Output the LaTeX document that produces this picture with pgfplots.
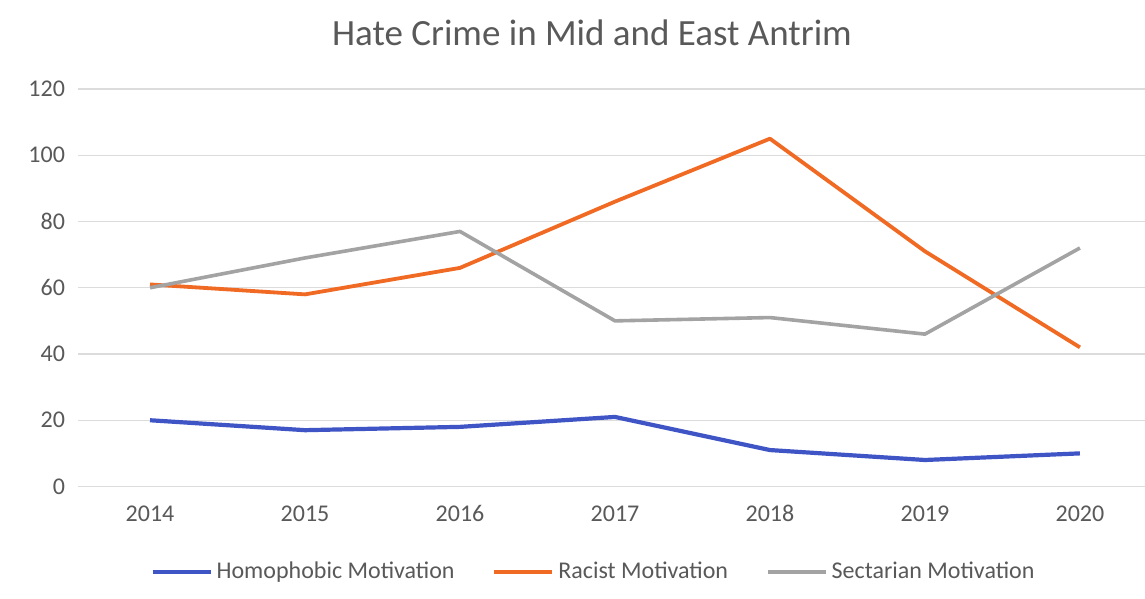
\documentclass[border=0pt]{standalone}
\usepackage{pgfplots}
\pgfplotsset{compat=1.18}
\usepackage{fontspec}
\setmainfont{Carlito}

\definecolor{homoblue}{HTML}{3F55C6}
\definecolor{racistorange}{HTML}{F06A24}
\definecolor{sectgray}{HTML}{A3A3A3}
\definecolor{gridgray}{HTML}{DCDCDC}
\definecolor{labelgray}{HTML}{595959}

\pgfplotstableread{
idx year homophobic racist sectarian
0 2014 20 61 60
1 2015 17 58 69
2 2016 18 66 77
3 2017 21 86 50
4 2018 11 105 51
5 2019 8 71 46
6 2020 10 42 72
}\hatecrime

\begin{document}
\begin{tikzpicture}
\useasboundingbox (0,0) rectangle (572.5pt,299.5pt);
\fill[white] (0,0) rectangle (572.5pt,299.5pt);
\node[text=labelgray, font=\fontsize{18.5}{22}\selectfont] at (296pt,283pt) {Hate Crime in Mid and East Antrim};
\begin{axis}[
  at={(39pt,56.25pt)}, anchor=south west,
  scale only axis,
  width=533.5pt, height=198.75pt,
  xmin=-0.465, xmax=6.42,
  ymin=0, ymax=120,
  xtick={0,...,6},
  xticklabels={2014,2015,2016,2017,2018,2019,2020},
  ytick={0,20,...,120},
  axis line style={draw=none},
  major tick length=0pt,
  ymajorgrids,
  grid style={gridgray, line width=0.6pt},
  tick label style={text=labelgray, font=\fontsize{12}{14}\selectfont},
  yticklabel style={xshift=-3pt},
  xticklabel style={anchor=north, text height=8pt, text depth=0pt, yshift=-6pt},
  /pgf/number format/assume math mode=true,
  clip=false,
  legend style={at={(0.484,-0.215)}, anchor=center, draw=none, fill=none,
    legend columns=3, font=\fontsize{12}{14}\selectfont, text=labelgray,
    /tikz/every even column/.append style={column sep=17pt}},
  legend cell align=left,
  legend image code/.code={\draw[#1] (0pt,0pt) -- (29pt,0pt);},
]
\addplot[homoblue, line width=2.1pt, line join=round] table[x=idx, y=homophobic] {\hatecrime};
\addlegendentry{Homophobic Motivation}
\addplot[racistorange, line width=1.9pt, line join=round] table[x=idx, y=racist] {\hatecrime};
\addlegendentry{Racist Motivation}
\addplot[sectgray, line width=1.8pt, line join=round] table[x=idx, y=sectarian] {\hatecrime};
\addlegendentry{Sectarian Motivation}
\end{axis}
\end{tikzpicture}
\end{document}
